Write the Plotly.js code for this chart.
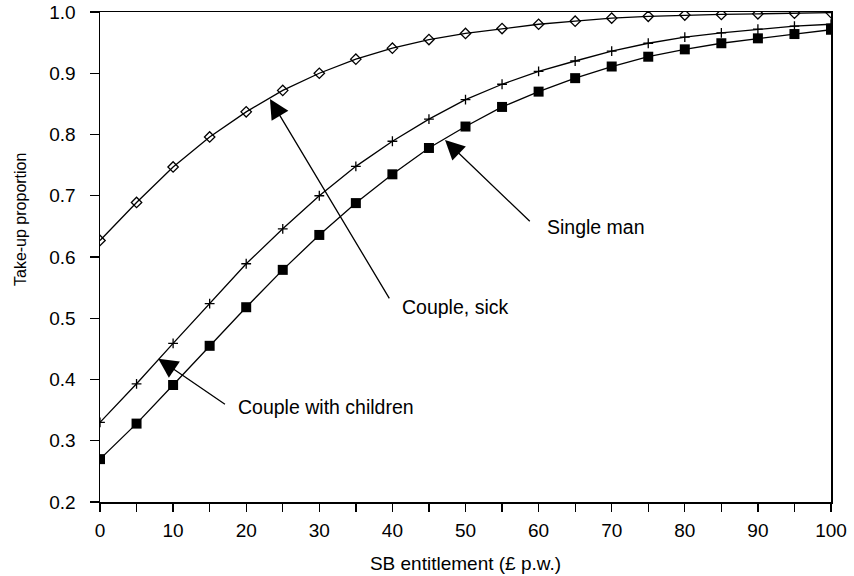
<!DOCTYPE html>
<html>
<head>
<meta charset="utf-8">
<script src="https://cdn.plot.ly/plotly-3.0.1.min.js"></script>
<style>html,body{margin:0;padding:0;background:#fff;}#chart{width:854px;height:576px;}</style>
</head>
<body>
<div id="chart"></div>
<script>
// SB entitlement (£ p.w.)
var entitlement = [0,5,10,15,20,25,30,35,40,45,50,55,60,65,70,75,80,85,90,95,100];
// Take-up proportion by household type
var coupleSick = [0.627,0.689,0.747,0.796,0.837,0.872,0.900,0.923,0.941,0.955,0.965,0.973,0.980,0.985,0.990,0.993,0.995,0.996,0.997,0.998,0.999];
var coupleChildren = [0.330,0.393,0.459,0.524,0.589,0.646,0.700,0.748,0.789,0.825,0.857,0.882,0.903,0.920,0.936,0.949,0.959,0.966,0.972,0.977,0.980];
var singleMan = [0.270,0.328,0.391,0.455,0.518,0.579,0.636,0.688,0.735,0.778,0.813,0.845,0.870,0.892,0.911,0.927,0.939,0.949,0.957,0.964,0.971];
var seriesNames = ["Couple, sick","Couple with children","Single man"];
var xTitle = "SB entitlement (£ p.w.)";
var yTitle = "Take-up proportion";

var FONT = "Liberation Sans, Arial, sans-serif";
var traces = [
  {x: entitlement, y: coupleSick, name: seriesNames[0], type: "scatter", mode: "lines+markers",
   line: {color: "#000", width: 1.3},
   marker: {symbol: "diamond-open", size: 8, color: "#000", line: {width: 1.3, color: "#000"}}},
  {x: entitlement, y: coupleChildren, name: seriesNames[1], type: "scatter", mode: "lines+markers",
   line: {color: "#000", width: 1.3},
   marker: {symbol: "cross-thin-open", size: 7, color: "#000", line: {width: 1.3, color: "#000"}}},
  {x: entitlement, y: singleMan, name: seriesNames[2], type: "scatter", mode: "lines+markers",
   line: {color: "#000", width: 1.3},
   marker: {symbol: "square", size: 10, color: "#000", line: {width: 0}}}
];

function arrow(tipX, tipY, tailX, tailY) {
  return {x: tipX, y: tipY, ax: tailX, ay: tailY, xref: "x", yref: "y", axref: "x", ayref: "y",
          text: "", showarrow: true, arrowhead: 2, arrowsize: 3, arrowwidth: 1.3, arrowcolor: "#000", standoff: 0, startstandoff: 0};
}
function label(txt, lx, ly) {
  return {x: lx, y: ly, xref: "x", yref: "y", text: txt, showarrow: false, xanchor: "left", yanchor: "middle",
          font: {family: FONT, size: 19.5, color: "#000"}};
}

var layout = {
  width: 854, height: 576,
  margin: {l: 100, r: 23, t: 12, b: 74},
  paper_bgcolor: "#fff", plot_bgcolor: "#fff",
  showlegend: false,
  font: {family: FONT, size: 19, color: "#000"},
  xaxis: {
    range: [0, 100], dtick: 10, tick0: 0, showgrid: false, zeroline: false,
    showline: true, linecolor: "#000", linewidth: 1.5, mirror: true,
    ticks: "outside", ticklen: 8, tickwidth: 1.3, tickcolor: "#000", ticklabelstandoff: 3,
    minor: {dtick: 5, ticks: "outside", ticklen: 8, tickwidth: 1.3, tickcolor: "#000", showgrid: false},
    tickfont: {family: FONT, size: 19, color: "#000"},
    title: {text: xTitle, font: {family: FONT, size: 19, color: "#000"}, standoff: 16}
  },
  yaxis: {
    range: [0.2, 1.0], dtick: 0.1, tick0: 0.2, tickformat: ".1f", showgrid: false, zeroline: false,
    showline: true, linecolor: "#000", linewidth: 1.5, mirror: true,
    ticks: "outside", ticklen: 9, tickwidth: 1.3, tickcolor: "#000", ticklabelstandoff: 10,
    tickfont: {family: FONT, size: 19, color: "#000"}
  },
  annotations: [
    arrow(23.25, 0.858, 39.7, 0.530),
    arrow(47.2, 0.791, 59.0, 0.656),
    arrow(7.97, 0.434, 17.3, 0.358),
    label(seriesNames[0], 41.1, 0.519),
    label(seriesNames[2], 60.9, 0.649),
    label(seriesNames[1], 18.6, 0.355),
    {x: 0, y: 0, xref: "paper", yref: "paper", text: yTitle, showarrow: false, textangle: -90,
     font: {family: FONT, size: 16, color: "#000"}}
  ]
};
// y title placed at pixel (20, 220)
(function(){
  var a = layout.annotations[layout.annotations.length - 1];
  var plotW = 854 - 100 - 23, plotH = 576 - 12 - 74;
  a.x = (20 - 100) / plotW;
  a.y = (576 - 74 - 220) / plotH;
  a.xanchor = "center"; a.yanchor = "middle";
})();

Plotly.newPlot("chart", traces, layout, {displayModeBar: false, staticPlot: true});
</script>
</body>
</html>
